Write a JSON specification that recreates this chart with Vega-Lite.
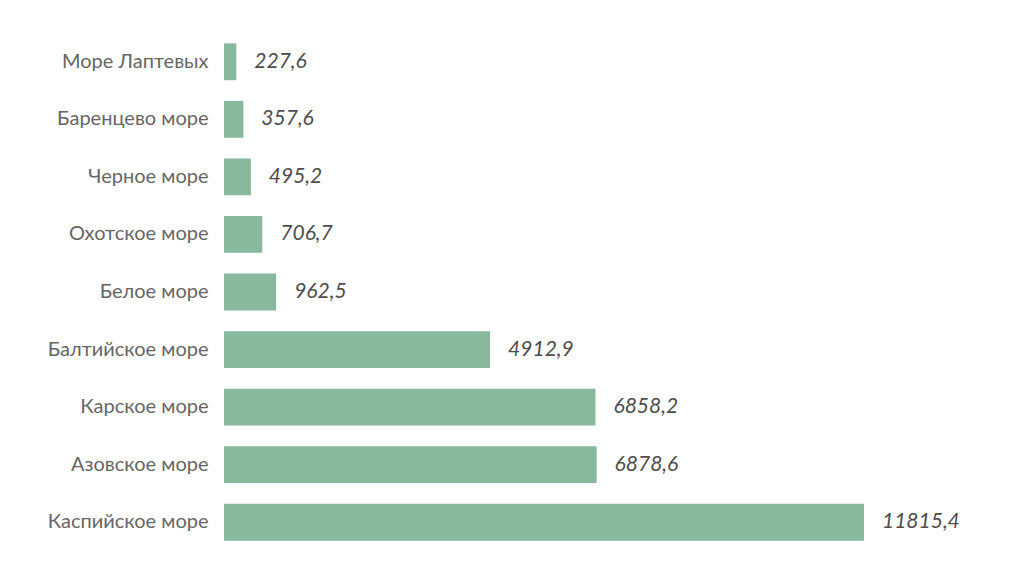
{
  "$schema": "https://vega.github.io/schema/vega-lite/v6.json",
  "autosize": {"type": "none"},
  "width": 780,
  "height": 518,
  "padding": {"left": 224, "top": 33, "right": 20, "bottom": 34},
  "background": "#ffffff",
  "data": {"values": [
    {"sea": "Море Лаптевых", "value": 227.6, "label": "227,6"},
    {"sea": "Баренцево море", "value": 357.6, "label": "357,6"},
    {"sea": "Черное море", "value": 495.2, "label": "495,2"},
    {"sea": "Охотское море", "value": 706.7, "label": "706,7"},
    {"sea": "Белое море", "value": 962.5, "label": "962,5"},
    {"sea": "Балтийское море", "value": 4912.9, "label": "4912,9"},
    {"sea": "Карское море", "value": 6858.2, "label": "6858,2"},
    {"sea": "Азовское море", "value": 6878.6, "label": "6878,6"},
    {"sea": "Каспийское море", "value": 11815.4, "label": "11815,4"}
  ]},
  "encoding": {
    "y": {
      "field": "sea", "type": "nominal", "sort": null,
      "scale": {"paddingInner": 0.36, "paddingOuter": 0.18},
      "axis": {"title": null, "ticks": false, "domain": false, "labelPadding": 16,
               "labelFont": "Lato", "labelFontSize": 20, "labelColor": "#666666", "labelLimit": 300}
    },
    "x": {
      "field": "value", "type": "quantitative",
      "scale": {"domain": [0, 14400], "nice": false, "zero": true},
      "axis": null
    }
  },
  "layer": [
    {"mark": {"type": "bar", "color": "#88b89d"}},
    {"mark": {"type": "text", "align": "left", "baseline": "middle", "dx": 18,
              "font": "Lato", "fontSize": 21, "fontStyle": "italic", "color": "#4d4d4d"},
     "encoding": {"text": {"field": "label"}}}
  ],
  "config": {"view": {"stroke": null}}
}
